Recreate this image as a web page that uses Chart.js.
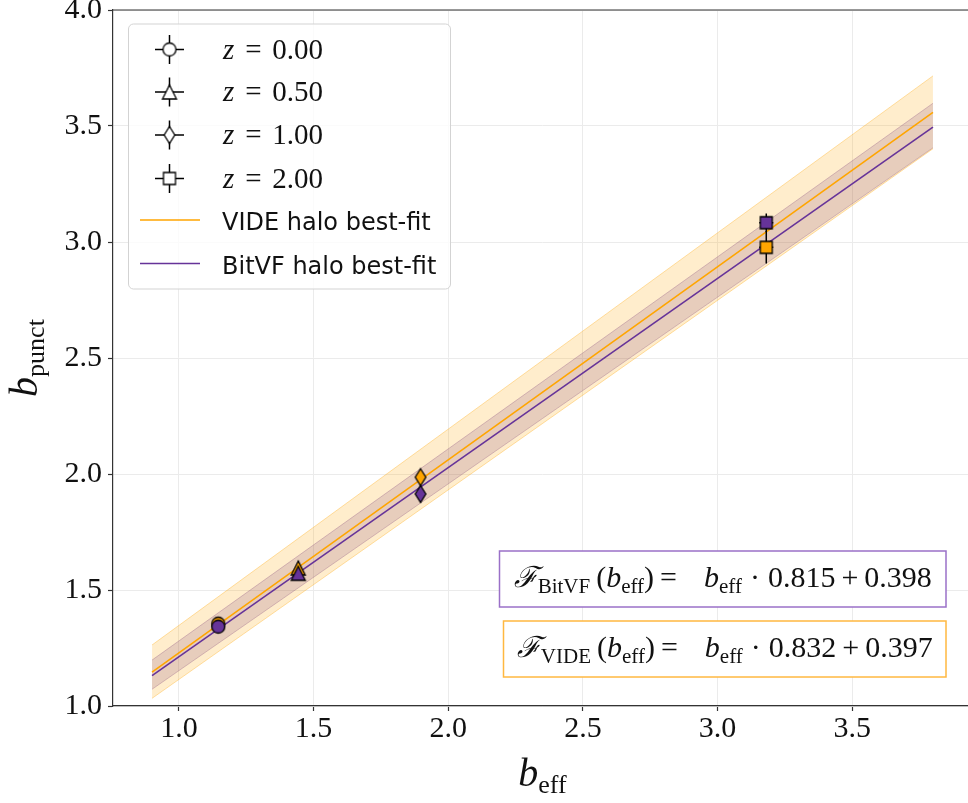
<!DOCTYPE html>
<html>
<head>
<meta charset="utf-8">
<script src="https://cdn.jsdelivr.net/npm/chart.js@4.4.1/dist/chart.umd.min.js"></script>
<style>
  html, body { margin: 0; padding: 0; background: #fff; overflow: hidden; }
  #wrap { width: 968px; height: 803px; overflow: hidden; }
</style>
</head>
<body>
<div id="wrap"><canvas id="biasChart" width="980" height="803"></canvas></div>
<script>
// values
const zLabels = ['0.00', '0.50', '1.00', '2.00'];
const markerShapes = ['circle', 'triangle', 'diamond', 'square'];
const bEff = [1.146, 1.443, 1.897, 3.181];
const bEffErr = [0.01, 0.01, 0.01, 0.026];
const bPunctVIDE = [1.355, 1.595, 1.986, 2.977];
const bPunctVIDEErr = [0.02, 0.02, 0.02, 0.07];
const bPunctBitVF = [1.342, 1.572, 1.914, 3.083];
const bPunctBitVFErr = [0.02, 0.02, 0.02, 0.04];

// best-fit lines and their bands, at the two ends
const fitX = [0.9, 3.8];
const fitVIDE = [1.146, 3.559];
const fitBitVF = [1.131, 3.495];
const bandVIDEHigh = [1.263, 3.716];
const bandVIDELow = [1.033, 3.402];
const bandBitVFHigh = [1.198, 3.598];
const bandBitVFLow = [1.072, 3.406];

const xTicks = [1.0, 1.5, 2.0, 2.5, 3.0, 3.5];
const yTicks = [1.0, 1.5, 2.0, 2.5, 3.0, 3.5, 4.0];

const ORANGE = '#FFA500';
const PURPLE = '#663399';
const SERIF = '"Liberation Serif", "DejaVu Serif", serif';

function makeMarker(shape, fill) {
    const c = document.createElement('canvas');
    c.width = 20;
    c.height = 20;
    const g = c.getContext('2d');
    g.translate(10, 10);
    g.beginPath();
    if (shape === 'circle') g.arc(0, 0, 6.5, 0, Math.PI * 2);
    else if (shape === 'triangle') { g.moveTo(0, -7); g.lineTo(7, 7); g.lineTo(-7, 7); g.closePath(); }
    else if (shape === 'diamond') { g.moveTo(0, -8.5); g.lineTo(5.3, 0); g.lineTo(0, 8.5); g.lineTo(-5.3, 0); g.closePath(); }
    else g.rect(-6, -6, 12, 12);
    g.fillStyle = fill;
    g.fill();
    g.lineWidth = 1.3;
    g.strokeStyle = '#000';
    g.stroke();
    return c;
}

const pts = (xs, ys) => xs.map((x, i) => ({ x: x, y: ys[i] }));

// text in runs: [text, font, dy, gap after]
function runsWidth(ctx, runs) {
    let w = 0;
    runs.forEach(r => { ctx.font = r[1]; w += ctx.measureText(r[0]).width + (r[3] || 0); });
    return w;
}
function drawRuns(ctx, runs, x, y) {
    let cx = x;
    runs.forEach(r => {
        ctx.font = r[1];
        ctx.fillText(r[0], cx, y + (r[2] || 0));
        cx += ctx.measureText(r[0]).width + (r[3] || 0);
    });
}

const errorBars = {
    id: 'errorBars',
    beforeDatasetDraw(chart, args) {
        const ds = chart.data.datasets[args.index];
        if (!ds.yErr) return;
        const xs = chart.scales.x, ys = chart.scales.y, ctx = chart.ctx;
        ctx.save();
        ctx.strokeStyle = '#000';
        ctx.lineWidth = 1.5;
        ds.data.forEach((p, i) => {
            const px = xs.getPixelForValue(p.x), py = ys.getPixelForValue(p.y);
            ctx.beginPath();
            ctx.moveTo(px, ys.getPixelForValue(p.y - ds.yErr[i]));
            ctx.lineTo(px, ys.getPixelForValue(p.y + ds.yErr[i]));
            ctx.moveTo(xs.getPixelForValue(p.x - ds.xErr[i]), py);
            ctx.lineTo(xs.getPixelForValue(p.x + ds.xErr[i]), py);
            ctx.stroke();
        });
        ctx.restore();
    }
};

const decorations = {
    id: 'decorations',
    beforeDatasetsDraw(chart) {
        // top spine
        const { ctx, chartArea: a } = chart;
        ctx.save();
        ctx.strokeStyle = '#333';
        ctx.lineWidth = 1.2;
        ctx.beginPath();
        ctx.moveTo(a.left, a.top);
        ctx.lineTo(a.right, a.top);
        ctx.stroke();
        ctx.restore();
    },
    afterDraw(chart) {
        const { ctx, chartArea: a } = chart;
        ctx.save();
        ctx.fillStyle = '#111';
        ctx.textBaseline = 'alphabetic';
        ctx.textAlign = 'left';

        // axis titles
        const xTitle = [['b', 'italic 40px ' + SERIF, 0], ['eff', '26px ' + SERIF, 7]];
        const xw = runsWidth(ctx, xTitle);
        drawRuns(ctx, xTitle, (a.left + a.right) / 2 - xw / 2, 786);

        const yTitle = [['b', 'italic 40px ' + SERIF, 0], ['punct', '26px ' + SERIF, 7]];
        const yw = runsWidth(ctx, yTitle);
        ctx.save();
        ctx.translate(37, (a.top + a.bottom) / 2);
        ctx.rotate(-Math.PI / 2);
        drawRuns(ctx, yTitle, -yw / 2, 0);
        ctx.restore();

        // fit formula boxes
        const boxes = [
            { sub: 'BitVF', slope: '0.815', icpt: '0.398', color: '#9a70c8', x: 499.5, y: 551, w: 446.5, h: 56, base: 587 },
            { sub: 'VIDE', slope: '0.832', icpt: '0.397', color: '#FFB840', x: 503.5, y: 621, w: 442.5, h: 56, base: 657 }
        ];
        const big = '30px ' + SERIF, bigIt = 'italic 30px ' + SERIF, sub = '21px ' + SERIF;
        boxes.forEach(b => {
            ctx.fillStyle = '#fff';
            ctx.fillRect(b.x, b.y, b.w, b.h);
            ctx.strokeStyle = b.color;
            ctx.lineWidth = 1.5;
            ctx.strokeRect(b.x, b.y, b.w, b.h);
            ctx.fillStyle = '#111';
            const runs = [
                ['\u2131', 'italic 29px "DejaVu Serif", serif', 0, 0],
                [b.sub, sub, 6, 6],
                ['(', big, 0, 0],
                ['b', bigIt, 0, 0],
                ['eff', sub, 6, 0],
                [')', big, 0, 6],
                ['=', big, 0, 27],
                ['b', bigIt, 0, 0],
                ['eff', sub, 6, 8],
                ['\u00b7', big, 0, 8],
                [b.slope, big, 0, 6],
                ['+', big, 0, 6],
                [b.icpt, big, 0, 0]
            ];
            const w = runsWidth(ctx, runs);
            drawRuns(ctx, runs, b.x + b.w / 2 - w / 2, b.base);
        });

        // legend
        const lx = 128.5, ly = 24, lw = 322, lh = 265;
        ctx.beginPath();
        ctx.roundRect(lx, ly, lw, lh, 5);
        ctx.fillStyle = 'rgba(255,255,255,0.8)';
        ctx.fill();
        ctx.strokeStyle = '#d3d3d3';
        ctx.lineWidth = 1;
        ctx.stroke();

        const rowY = [49.5, 92, 135, 178.5];
        zLabels.forEach((z, i) => {
            const cy = rowY[i], cx = 169.5;
            ctx.strokeStyle = '#000';
            ctx.lineWidth = 1.5;
            ctx.beginPath();
            ctx.moveTo(cx - 14.5, cy); ctx.lineTo(cx + 14.5, cy);
            ctx.moveTo(cx, cy - 14.5); ctx.lineTo(cx, cy + 14.5);
            ctx.stroke();
            const m = makeMarker(markerShapes[i], '#fff');
            ctx.drawImage(m, cx - 10, cy - 10);
            ctx.fillStyle = '#111';
            ctx.font = 'italic 29px ' + SERIF;
            ctx.fillText('z', 223, cy + 9);
            ctx.font = '29px ' + SERIF;
            ctx.textAlign = 'center';
            ctx.fillText('=', 253.5, cy + 9);
            ctx.textAlign = 'right';
            ctx.fillText(z, 323, cy + 9);
            ctx.textAlign = 'left';
        });
        const lines = [['VIDE halo best-fit', ORANGE, 220], ['BitVF halo best-fit', PURPLE, 263.5]];
        lines.forEach(([t, c, cy]) => {
            ctx.strokeStyle = c;
            ctx.lineWidth = 1.5;
            ctx.beginPath();
            ctx.moveTo(140, cy); ctx.lineTo(200, cy);
            ctx.stroke();
            ctx.fillStyle = '#111';
            ctx.font = '24px "DejaVu Sans", sans-serif';
            ctx.fillText(t, 222, cy + 10);
        });
        ctx.restore();
    }
};

const canvas = document.getElementById('biasChart');
const context = canvas.getContext('2d');

new Chart(context, {
    type: 'line',
    data: {
        datasets: [
            {
                label: 'BitVF', type: 'scatter', order: 0,
                data: pts(bEff, bPunctBitVF), xErr: bEffErr, yErr: bPunctBitVFErr,
                pointStyle: markerShapes.map(s => makeMarker(s, PURPLE)),
                pointRadius: 7, showLine: false
            },
            {
                label: 'VIDE', type: 'scatter', order: 1,
                data: pts(bEff, bPunctVIDE), xErr: bEffErr, yErr: bPunctVIDEErr,
                pointStyle: markerShapes.map(s => makeMarker(s, ORANGE)),
                pointRadius: 7, showLine: false
            },
            {
                label: 'VIDE halo best-fit', order: 2, data: pts(fitX, fitVIDE),
                borderColor: ORANGE, borderWidth: 1.6, pointRadius: 0, fill: false
            },
            {
                label: 'BitVF halo best-fit', order: 3, data: pts(fitX, fitBitVF),
                borderColor: PURPLE, borderWidth: 1.6, pointRadius: 0, fill: false
            },
            {
                label: 'VIDE band high', order: 4, data: pts(fitX, bandVIDEHigh),
                borderColor: 'rgba(255,165,0,0.35)', borderWidth: 1, pointRadius: 0,
                backgroundColor: 'rgba(255,165,0,0.2)', fill: 5
            },
            {
                label: 'VIDE band low', order: 4, data: pts(fitX, bandVIDELow),
                borderColor: 'rgba(255,165,0,0.35)', borderWidth: 1, pointRadius: 0, fill: false
            },
            {
                label: 'BitVF band high', order: 5, data: pts(fitX, bandBitVFHigh),
                borderColor: 'rgba(102,51,153,0.3)', borderWidth: 1, pointRadius: 0,
                backgroundColor: 'rgba(102,51,153,0.2)', fill: 7
            },
            {
                label: 'BitVF band low', order: 5, data: pts(fitX, bandBitVFLow),
                borderColor: 'rgba(102,51,153,0.3)', borderWidth: 1, pointRadius: 0, fill: false
            }
        ]
    },
    options: {
        responsive: false,
        animation: false,
        events: [],
        layout: { padding: { top: 10, right: 8, left: 0, bottom: 0 } },
        elements: { line: { tension: 0 } },
        scales: {
            x: {
                type: 'linear', min: 0.755, max: 3.945,
                afterBuildTicks: scale => { scale.ticks = xTicks.map(v => ({ value: v })); },
                afterFit: scale => { scale.height = 97; scale.paddingLeft = 0; scale.paddingRight = 0; },
                grid: { color: '#ebebeb', tickColor: '#333', tickLength: 5, tickWidth: 1.2 },
                border: { color: '#333', width: 1.2 },
                ticks: {
                    color: '#111', padding: 0, maxRotation: 0,
                    font: { family: SERIF, size: 30 },
                    callback: v => v.toFixed(1)
                }
            },
            y: {
                type: 'linear', min: 1.0, max: 4.0,
                afterBuildTicks: scale => { scale.ticks = yTicks.map(v => ({ value: v })); },
                afterFit: scale => { scale.width = 113; scale.paddingTop = 0; scale.paddingBottom = 0; },
                grid: { color: '#ebebeb', tickColor: '#333', tickLength: 5, tickWidth: 1.2 },
                border: { color: '#333', width: 1.2 },
                ticks: {
                    color: '#111', padding: 6,
                    font: { family: SERIF, size: 30 },
                    callback: v => v.toFixed(1)
                }
            }
        },
        plugins: {
            legend: { display: false },
            tooltip: { enabled: false }
        }
    },
    plugins: [errorBars, decorations]
});
</script>
</body>
</html>
